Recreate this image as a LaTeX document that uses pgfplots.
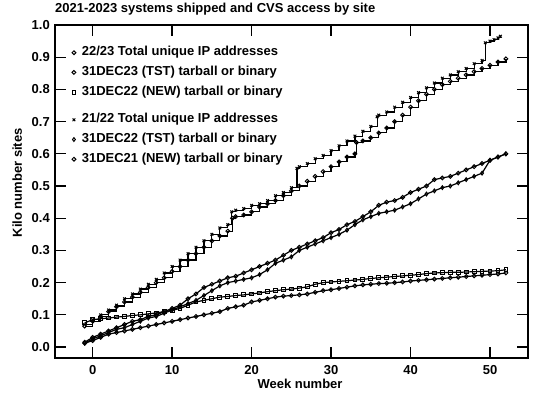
\documentclass[border=0pt]{standalone}
\usepackage{fontspec}
\setmainfont{Liberation Sans}
\usepackage{pgfplots}
\pgfplotsset{compat=1.18}
\newcommand\ff{\fontsize{13bp}{15bp}\selectfont\bfseries}
\pgfplotsset{
  base/.style={
    width=473bp, height=333bp, scale only axis,
    at={(55bp,39bp)}, anchor=south west,
    xmin=-4.74, xmax=54.78, ymin=-0.034, ymax=1.0,
    axis line style={line width=1.6bp},
    xtick={0,10,20,30,40,50},
    ytick={0,0.1,0.2,0.3,0.4,0.5,0.6,0.7,0.8,0.9,1.0},
    yticklabel style={/pgf/number format/fixed,/pgf/number format/fixed zerofill,/pgf/number format/precision=1,anchor=east,xshift=-5bp,inner sep=0pt},
    xticklabel style={anchor=base,yshift=-16.5bp,inner sep=0pt},
    /pgf/number format/assume math mode=true,
    ticklabel style={font=\ff},
    tick align=inside, major tick length=11bp,
    tick style={line width=1.3bp,black},
    legend style={draw=none,fill=none,inner sep=0pt,outer sep=0pt,row sep=7.2bp,
      nodes={inner sep=0pt,text height=9.4bp,text depth=3.1bp,font=\ff},
      column sep=6bp},
    legend cell align=left,
    legend image code/.code={\draw[#1,only marks] plot coordinates {(0bp,0bp)};},
  },
  ser/.style={black,line width=1.2bp,mark size=1.9bp,mark options={solid,line width=1bp}},
}
\begin{document}
\begin{tikzpicture}
\useasboundingbox (0,0) rectangle (540bp,397bp);
\begin{axis}[base,
  title={2021-2023 systems shipped and CVS access by site},
  title style={at={(axis description cs:0,1)},anchor=base west,yshift=7bp,inner sep=0pt,font=\ff},
  xlabel={Week number},
  xlabel style={at={(axis description cs:0.518,0)},anchor=base,yshift=-30bp,inner sep=0pt,font=\ff},
  ylabel={Kilo number sites},
  ylabel style={at={(axis description cs:-0.08,0.526)},anchor=center,inner sep=0pt,font=\ff},
  legend style={at={(axis description cs:0.036,0.9355)},anchor=north west},
]
% 22/23 Total unique IP addresses
\addplot[ser,const plot, mark=o] coordinates {
(-1,0.065)(0,0.08)(1,0.095)(2,0.11)(3,0.125)(4,0.14)(5,0.155)(6,0.17)(7,0.185)(8,0.20)(9,0.215)(10,0.235)
(11,0.25)(12,0.27)(13,0.29)(14,0.31)(15,0.33)(16,0.345)(17,0.36)(17.6,0.40)(18,0.405)(19,0.41)(20,0.42)
(21,0.435)(22,0.445)(23,0.455)(24,0.47)(25,0.485)(26,0.50)(27,0.515)(28,0.53)(29,0.545)(30,0.56)(31,0.575)
(32,0.59)(33,0.60)(33.2,0.635)(34,0.64)(35,0.65)(36,0.665)(37,0.68)(38,0.70)(39,0.72)(40,0.745)(41,0.765)
(42,0.785)(43,0.80)(44,0.815)(45,0.825)(46,0.835)(47,0.845)(48,0.855)(49,0.865)(50,0.875)(51,0.885)(52,0.895)};
\addlegendentry{22/23 Total unique IP addresses}
% 31DEC23 (TST)
\addplot[ser,mark=o] coordinates {
(-1,0.015)(0,0.03)(1,0.04)(2,0.05)(3,0.06)(4,0.07)(5,0.08)(6,0.085)(7,0.095)(8,0.10)(9,0.11)(10,0.12)
(11,0.13)(12,0.15)(13,0.165)(14,0.185)(15,0.195)(16,0.205)(17,0.215)(18,0.22)(19,0.23)(20,0.24)(21,0.25)
(22,0.26)(23,0.27)(24,0.285)(25,0.30)(26,0.31)(27,0.32)(28,0.33)(29,0.34)(30,0.355)(31,0.365)(32,0.38)
(33,0.39)(34,0.405)(35,0.42)(36,0.44)(37,0.45)(38,0.455)(39,0.465)(40,0.48)(41,0.49)(42,0.50)(43,0.52)
(44,0.525)(45,0.53)(46,0.54)(47,0.55)(48,0.56)(49,0.57)(50,0.58)(51,0.59)(52,0.60)};
\addlegendentry{31DEC23 (TST) tarball or binary}
% 31DEC22 (NEW)
\addplot[ser,mark=square] coordinates {
(-1,0.075)(0,0.085)(1,0.088)(2,0.09)(3,0.093)(4,0.095)(5,0.098)(6,0.10)(7,0.103)(8,0.106)(9,0.11)(10,0.114)
(11,0.12)(12,0.13)(13,0.14)(14,0.145)(15,0.15)(16,0.155)(17,0.157)(18,0.16)(19,0.162)(20,0.165)(21,0.168)
(22,0.172)(23,0.175)(24,0.178)(25,0.18)(26,0.183)(27,0.187)(28,0.195)(29,0.20)(30,0.202)(31,0.204)(32,0.206)
(33,0.208)(34,0.21)(35,0.213)(36,0.215)(37,0.217)(38,0.219)(39,0.221)(40,0.223)(41,0.225)(42,0.228)(43,0.23)
(44,0.231)(45,0.232)(46,0.232)(47,0.233)(48,0.234)(49,0.235)(50,0.236)(51,0.237)(52,0.24)};
\addlegendentry{31DEC22 (NEW) tarball or binary}
\end{axis}
\begin{axis}[base, hide axis,
  legend style={at={(axis description cs:0.036,0.734)},anchor=north west},
]
% 21/22 Total unique IP addresses
\addplot[ser,const plot, mark=x] coordinates {
(-1,0.07)(0,0.085)(1,0.10)(2,0.115)(3,0.13)(4,0.15)(5,0.165)(6,0.18)(7,0.195)(8,0.21)(9,0.23)(10,0.25)
(11,0.27)(12,0.29)(13,0.31)(14,0.33)(15,0.35)(16,0.37)(17,0.38)(17.5,0.42)(18,0.425)(19,0.43)(20,0.44)
(21,0.445)(22,0.455)(23,0.47)(24,0.48)(25,0.495)(25.7,0.555)(26,0.56)(27,0.57)(28,0.585)(29,0.595)(30,0.61)
(31,0.625)(32,0.64)(33,0.655)(34,0.67)(35,0.685)(35.8,0.715)(36,0.72)(37,0.73)(38,0.745)(39,0.76)(40,0.775)
(41,0.79)(42,0.805)(43,0.82)(44,0.835)(45,0.845)(46,0.855)(47,0.865)(48,0.88)(49,0.89)(49.4,0.945)(50,0.95)
(50.5,0.955)(51,0.96)(51.3,0.965)};
\addlegendentry{21/22 Total unique IP addresses}
% 31DEC22 (TST)
\addplot[ser,mark=diamond] coordinates {
(-1,0.012)(0,0.025)(1,0.035)(2,0.045)(3,0.055)(4,0.06)(5,0.07)(6,0.08)(7,0.09)(8,0.095)(9,0.105)(10,0.115)
(11,0.125)(12,0.135)(13,0.145)(14,0.16)(15,0.175)(16,0.19)(17,0.20)(18,0.205)(19,0.21)(20,0.215)(21,0.225)
(22,0.24)(23,0.26)(24,0.27)(25,0.28)(26,0.30)(27,0.31)(28,0.32)(29,0.33)(30,0.34)(31,0.35)(32,0.363)
(33,0.38)(34,0.395)(35,0.405)(36,0.415)(37,0.42)(38,0.425)(39,0.435)(40,0.445)(41,0.46)(42,0.475)(43,0.485)
(44,0.495)(45,0.50)(46,0.51)(47,0.52)(48,0.53)(49,0.54)(50,0.58)(51,0.59)(52,0.60)};
\addlegendentry{31DEC22 (TST) tarball or binary}
% 31DEC21 (NEW)
\addplot[ser,mark=o] coordinates {
(-1,0.012)(0,0.02)(1,0.03)(2,0.04)(3,0.045)(4,0.05)(5,0.055)(6,0.06)(7,0.065)(8,0.07)(9,0.075)(10,0.08)
(11,0.085)(12,0.09)(13,0.095)(14,0.10)(15,0.105)(16,0.11)(17,0.12)(18,0.125)(19,0.13)(20,0.14)(21,0.145)
(22,0.15)(23,0.155)(24,0.158)(25,0.16)(26,0.162)(27,0.165)(28,0.17)(29,0.175)(30,0.178)(31,0.182)(32,0.186)
(33,0.19)(34,0.193)(35,0.195)(36,0.197)(37,0.198)(38,0.20)(39,0.202)(40,0.205)(41,0.207)(42,0.209)(43,0.211)
(44,0.213)(45,0.215)(46,0.217)(47,0.219)(48,0.221)(49,0.223)(50,0.225)(51,0.227)(52,0.23)};
\addlegendentry{31DEC21 (NEW) tarball or binary}
\end{axis}
\end{tikzpicture}
\end{document}
